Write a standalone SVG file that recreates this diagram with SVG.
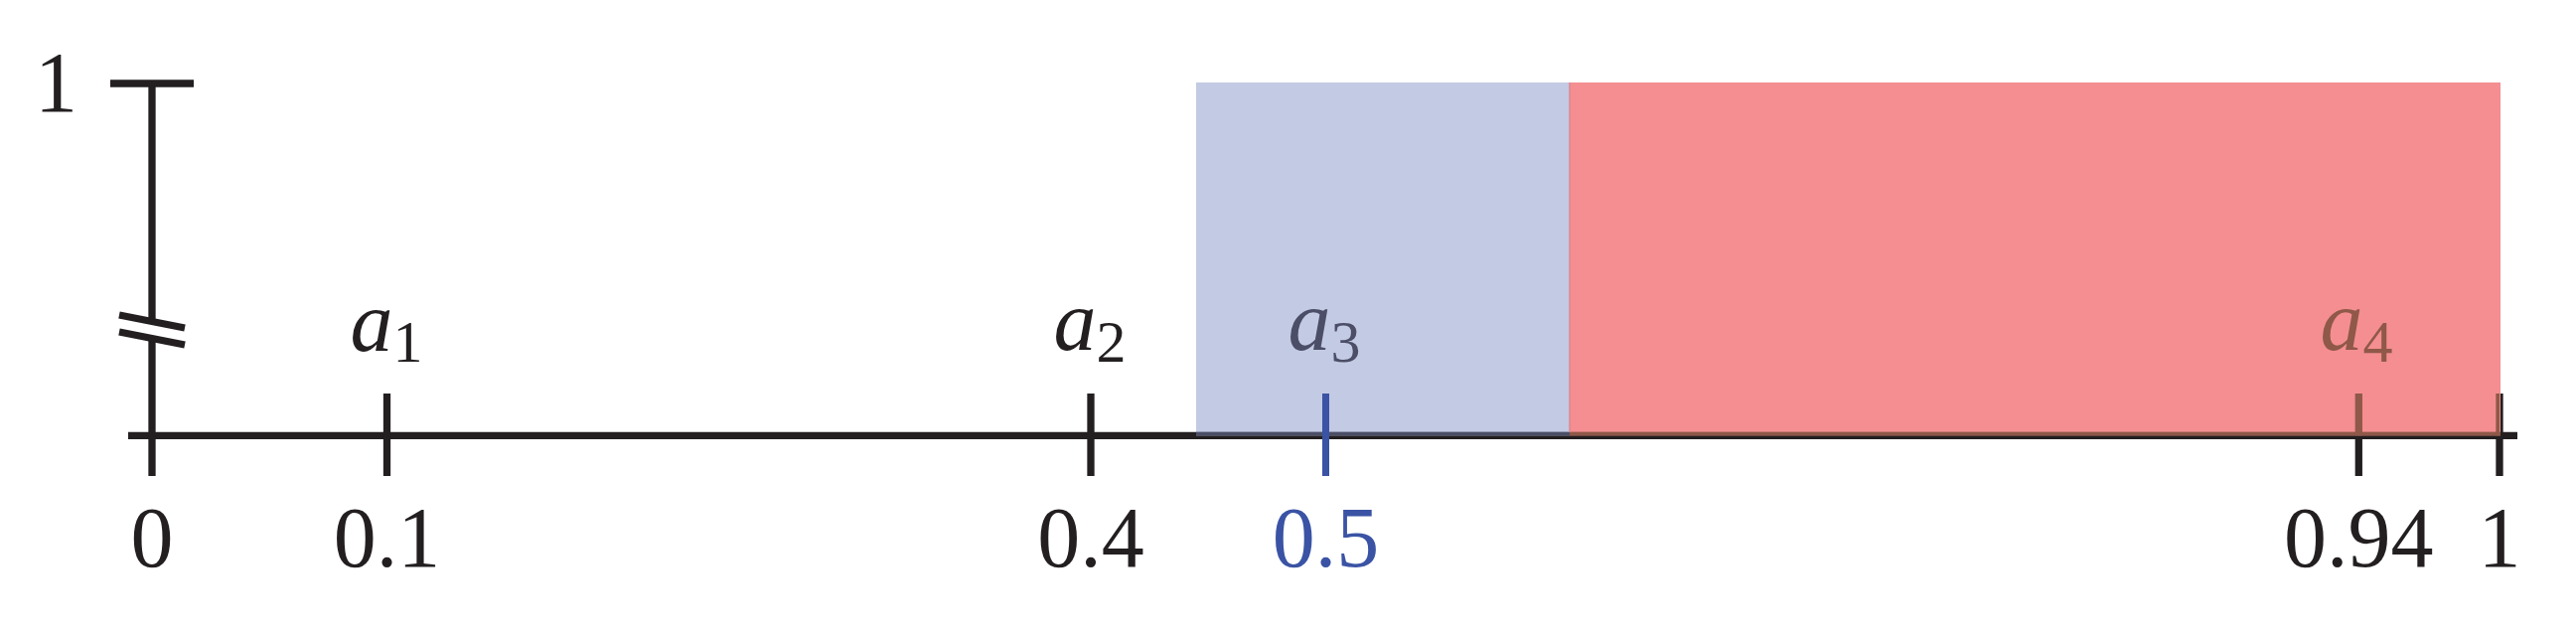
<svg xmlns="http://www.w3.org/2000/svg" width="2593" height="639" viewBox="0 0 2593 639">
<style>
.ln{stroke:#231f20;stroke-width:7.3;fill:none}
.t{font-family:"Liberation Serif",serif;font-size:86px;fill:#231f20}
.lab{font-family:"Liberation Serif",serif;font-size:86px;font-style:italic;text-anchor:middle}
.sub{font-style:normal;font-size:60px}
</style>
<rect width="2593" height="639" fill="#ffffff"/>
<g id="axes">
<line class="ln" x1="129" y1="438.3" x2="2534" y2="438.3"/>
<line class="ln" x1="153" y1="84" x2="153" y2="321"/>
<line class="ln" x1="153" y1="340" x2="153" y2="479"/>
<line class="ln" x1="111" y1="84" x2="195" y2="84"/>
<line class="ln" x1="120" y1="317" x2="186" y2="330"/>
<line class="ln" x1="120" y1="334" x2="186" y2="347"/>
</g>
<g id="ticks">
<line class="ln" x1="389.5" y1="396" x2="389.5" y2="479"/>
<line class="ln" x1="1098" y1="396" x2="1098" y2="479"/>
<line class="ln" x1="2374.3" y1="396" x2="2374.3" y2="479"/>
<line class="ln" x1="2516" y1="396" x2="2516" y2="479"/>
</g>
<g id="region-blue">
<rect x="1204" y="83" width="376" height="355.3" fill="#c3cae3"/>
<rect x="1204" y="434.6" width="376" height="3.7" fill="#4b4e66"/>
</g>
<g id="region-red">
<rect x="1580" y="83" width="937" height="355.3" fill="#f48e91"/>
<rect x="1580" y="434.6" width="937" height="3.7" fill="#8f5848"/>
<line x1="2374.3" y1="396" x2="2374.3" y2="438.3" stroke="#8f5848" stroke-width="7.3"/>
<line x1="2514.2" y1="396" x2="2514.2" y2="438.3" stroke="#8f5848" stroke-width="3.7"/>
<line x1="1580" y1="83" x2="1580" y2="434.6" stroke="#d98a98" stroke-width="1.5"/>
</g>
<g id="tick-05">
<line x1="1334.5" y1="396" x2="1334.5" y2="479" stroke="#3a53a4" stroke-width="7"/>
</g>
<g id="labels">
<text class="t" x="78" y="112" text-anchor="end">1</text>
<text class="t" x="153" y="570" text-anchor="middle">0</text>
<text class="t" x="389.5" y="570" text-anchor="middle">0.1</text>
<text class="t" x="1098" y="570" text-anchor="middle">0.4</text>
<text class="t" x="1334.5" y="570" text-anchor="middle" fill="#3a53a4" style="fill:#3a53a4">0.5</text>
<text class="t" x="2374.3" y="570" text-anchor="middle">0.94</text>
<text class="t" x="2516" y="570" text-anchor="middle">1</text>
</g>
<g id="node-a1"><text class="lab" x="389" y="353" fill="#231f20">a<tspan class="sub" dy="11">1</tspan></text></g>
<g id="node-a2"><text class="lab" x="1097" y="352" fill="#231f20">a<tspan class="sub" dy="12">2</tspan></text></g>
<g id="node-a3"><text class="lab" x="1333" y="352" fill="#4b4e66">a<tspan class="sub" dy="12">3</tspan></text></g>
<g id="node-a4"><text class="lab" x="2372" y="352" fill="#8f5848">a<tspan class="sub" dy="12">4</tspan></text></g>
</svg>
